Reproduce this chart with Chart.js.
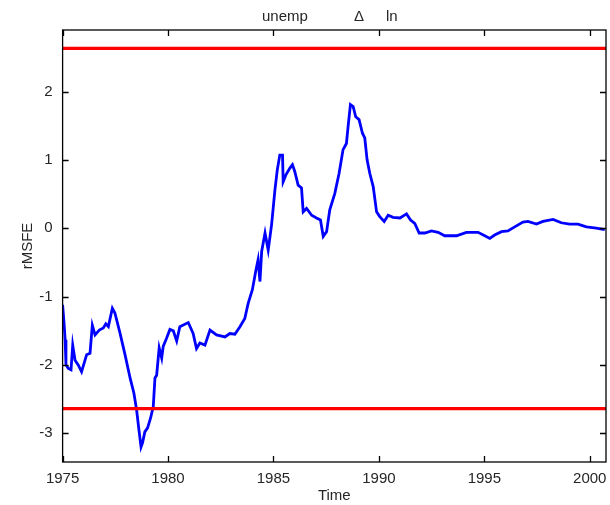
<!DOCTYPE html>
<html lang="en">
<head>
  <meta charset="UTF-8" />
  <title>unemp Δ ln</title>
  <script src="https://cdn.jsdelivr.net/npm/chart.js"></script>
<style>
  html, body {
    margin: 0;
    padding: 0;
    background: #ffffff;
    overflow: hidden;
  }
  #grafico {
    display: block;
  }
</style>
</head>
<body>
  <canvas id="grafico" width="610" height="505"></canvas>

  <script>
    // data
    const years = [
      1975.00, 1975.07, 1975.12, 1975.16, 1975.27, 1975.40, 1975.48, 1975.59, 1975.74, 1975.90,
      1976.14, 1976.30, 1976.41, 1976.54, 1976.74, 1976.93, 1977.05, 1977.17, 1977.36, 1977.48,
      1977.72, 1977.96, 1978.20, 1978.38, 1978.51, 1978.62, 1978.72, 1978.79, 1978.90, 1979.03,
      1979.17, 1979.30, 1979.38, 1979.46, 1979.58, 1979.70, 1979.77, 1979.93, 1980.09, 1980.25,
      1980.41, 1980.56, 1980.96, 1981.19, 1981.35, 1981.51, 1981.75, 1981.99, 1982.30, 1982.70,
      1982.93, 1983.17, 1983.41, 1983.64, 1983.80, 1984.00, 1984.17, 1984.27, 1984.36, 1984.44,
      1984.60, 1984.75, 1984.91, 1985.07, 1985.18, 1985.30, 1985.43, 1985.46, 1985.59, 1985.78,
      1985.90, 1986.01, 1986.17, 1986.33, 1986.41, 1986.57, 1986.81, 1987.04, 1987.23, 1987.36,
      1987.52, 1987.67, 1987.91, 1988.11, 1988.30, 1988.46, 1988.54, 1988.65, 1988.78, 1988.90,
      1989.06, 1989.22, 1989.33, 1989.44, 1989.57, 1989.73, 1989.89, 1990.04, 1990.25, 1990.44,
      1990.67, 1991.00, 1991.31, 1991.50, 1991.70, 1991.91, 1992.18, 1992.49, 1992.81, 1993.12,
      1993.68, 1994.15, 1994.70, 1995.02, 1995.26, 1995.49, 1995.81, 1996.12, 1996.44, 1996.83,
      1997.07, 1997.47, 1997.78, 1998.26, 1998.65, 1999.04, 1999.44, 1999.84, 2000.31, 2000.71
    ];
    const rmsfe = [
      -1.12, -1.39, -1.63, -2.00, -2.05, -2.07, -1.71, -1.93, -2.00, -2.10,
      -1.85, -1.83, -1.42, -1.56, -1.49, -1.46, -1.40, -1.44, -1.17, -1.24,
      -1.53, -1.85, -2.19, -2.41, -2.66, -2.95, -3.20, -3.14, -2.98, -2.92,
      -2.78, -2.61, -2.19, -2.15, -1.75, -1.90, -1.73, -1.61, -1.48, -1.50,
      -1.65, -1.44, -1.38, -1.54, -1.76, -1.68, -1.71, -1.49, -1.56, -1.59,
      -1.54, -1.55, -1.44, -1.32, -1.10, -0.90, -0.61, -0.46, -0.78, -0.34,
      -0.07, -0.32, 0.05, 0.56, 0.85, 1.07, 1.07, 0.68, 0.78, 0.88,
      0.93, 0.83, 0.63, 0.59, 0.24, 0.29, 0.19, 0.15, 0.12, -0.12,
      -0.05, 0.27, 0.51, 0.80, 1.15, 1.24, 1.49, 1.81, 1.78, 1.63,
      1.59, 1.39, 1.32, 1.00, 0.80, 0.61, 0.24, 0.17, 0.10, 0.19,
      0.16, 0.15, 0.21, 0.12, 0.07, -0.07, -0.07, -0.04, -0.06, -0.11,
      -0.11, -0.06, -0.06, -0.11, -0.15, -0.10, -0.05, -0.04, 0.02, 0.09,
      0.10, 0.06, 0.10, 0.13, 0.08, 0.06, 0.06, 0.02, 0.00, -0.02
    ];
    const upperBand = 2.63;
    const lowerBand = -2.64;
    const xRange = [1975, 2000.77];
    const yRange = [-3.42, 2.9];
    const titleParts = ['unemp', 'Δ', 'ln'];

    const textColor = '#262626';
    const fontFamily = '"Liberation Sans", Arial, Helvetica, sans-serif';

    // box around the plot + inward tick marks + title words
    const frame = {
      id: 'frame',
      afterDraw(chart) {
        const { ctx, chartArea: a, scales: { x, y } } = chart;
        ctx.save();
        ctx.strokeStyle = '#000';
        ctx.lineWidth = 1.3;
        ctx.strokeRect(a.left, a.top, a.right - a.left, a.bottom - a.top);
        const len = 6;
        ctx.beginPath();
        x.ticks.forEach(t => {
          const px = Math.round(x.getPixelForValue(t.value)) + 0.5;
          ctx.moveTo(px, a.bottom); ctx.lineTo(px, a.bottom - len);
          ctx.moveTo(px, a.top); ctx.lineTo(px, a.top + len);
        });
        y.ticks.forEach(t => {
          const py = Math.round(y.getPixelForValue(t.value)) + 0.5;
          ctx.moveTo(a.left, py); ctx.lineTo(a.left + len, py);
          ctx.moveTo(a.right, py); ctx.lineTo(a.right - len, py);
        });
        ctx.stroke();

        // title, spread like the original
        ctx.fillStyle = textColor;
        ctx.font = '15px ' + fontFamily;
        ctx.textBaseline = 'middle';
        ctx.textAlign = 'left';
        const ty = 17;
        ctx.fillText(titleParts[0], 262, ty);
        ctx.fillText(titleParts[1], 354, ty);
        ctx.fillText(titleParts[2], 386, ty);
        ctx.restore();
      }
    };

    const ctx = document.getElementById('grafico').getContext('2d');
    const chart = new Chart(ctx, {
      type: 'line',
      data: {
        datasets: [
          {
            label: 'upper',
            data: xRange.map(v => ({ x: v, y: upperBand })),
            borderColor: '#ff0000',
            borderWidth: 3.2,
            pointRadius: 0,
            order: 0
          },
          {
            label: 'lower',
            data: xRange.map(v => ({ x: v, y: lowerBand })),
            borderColor: '#ff0000',
            borderWidth: 3.2,
            pointRadius: 0,
            order: 0
          },
          {
            label: 'rMSFE',
            data: years.map((yr, i) => ({ x: yr, y: rmsfe[i] })),
            borderColor: '#0000ff',
            borderWidth: 2.8,
            pointRadius: 0,
            tension: 0,
            order: 1
          }
        ]
      },
      options: {
        responsive: false,
        animation: false,
        layout: { padding: { top: 30, right: 4, left: 0, bottom: 0 } },
        scales: {
          x: {
            type: 'linear',
            min: xRange[0],
            max: xRange[1],
            afterFit: s => { s.height = 43; s.paddingLeft = 0; s.paddingRight = 0; },
            grid: { display: false, drawTicks: false },
            border: { display: false },
            ticks: {
              stepSize: 5,
              includeBounds: false,
              padding: 8,
              color: textColor,
              font: { family: fontFamily, size: 15 },
              maxRotation: 0,
              callback: v => String(v)
            },
            title: {
              display: true,
              text: 'Time',
              color: textColor,
              font: { family: fontFamily, size: 15 },
              padding: { top: 0, bottom: 0 }
            }
          },
          y: {
            min: yRange[0],
            max: yRange[1],
            afterFit: s => { s.width = 62.6; s.paddingTop = 0; s.paddingBottom = 0; },
            grid: { display: false, drawTicks: false },
            border: { display: false },
            ticks: {
              stepSize: 1,
              includeBounds: false,
              padding: 10,
              color: textColor,
              font: { family: fontFamily, size: 15 }
            },
            title: {
              display: true,
              text: 'rMSFE',
              color: textColor,
              font: { family: fontFamily, size: 15 },
              padding: { top: 19, bottom: 0 }
            }
          }
        },
        plugins: {
          legend: { display: false },
          tooltip: { enabled: false },
          title: { display: false }
        }
      },
      plugins: [frame]
    });
  </script>
</body>
</html>
